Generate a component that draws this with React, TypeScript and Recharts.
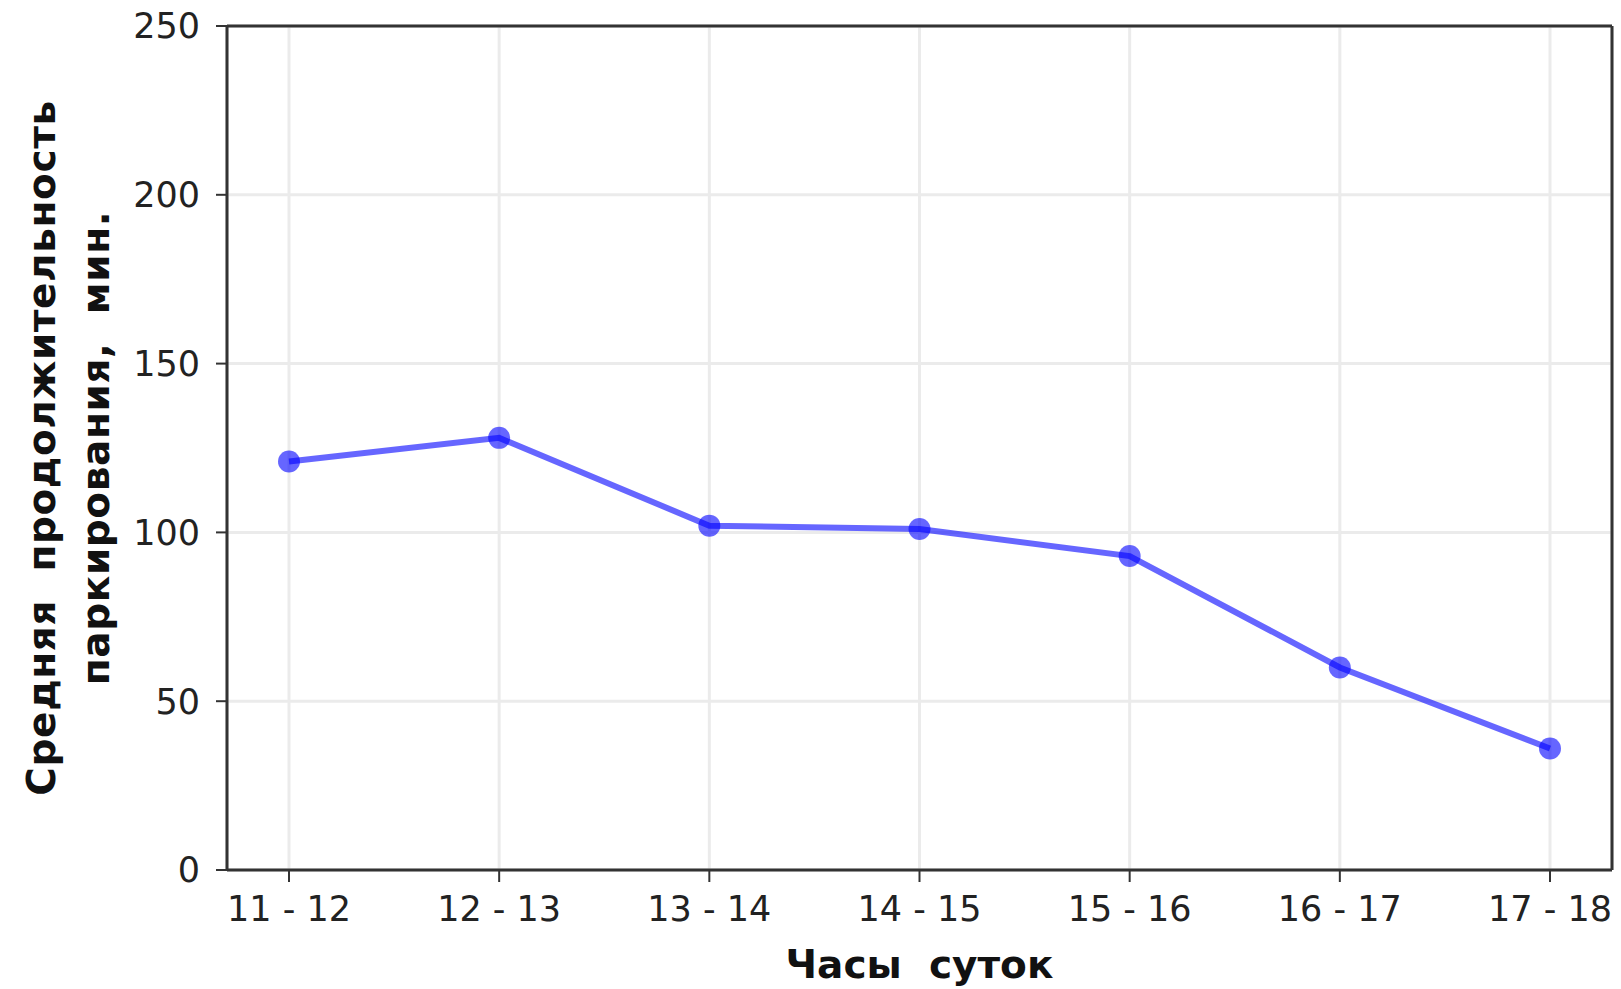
import React from 'react';
import { LineChart, Line, XAxis, YAxis, CartesianGrid, ReferenceLine, Label } from 'recharts';

const hours = ['11 - 12', '12 - 13', '13 - 14', '14 - 15', '15 - 16', '16 - 17', '17 - 18'];
const avgDuration = [121, 128, 102, 101, 93, 60, 36];
const yTicks = [0, 50, 100, 150, 200, 250];

const data = hours.map((h, i) => ({ hour: h, value: avgDuration[i] }));

const FONT = '"DejaVu Sans", sans-serif';
const AXIS = '#333333';

const YLabel = (props: any) => {
  const vb = props.viewBox || {};
  const cy = vb.y + vb.height / 2;
  return (
    <text
      transform={`rotate(-90, 0, ${cy})`}
      x={0}
      y={cy}
      textAnchor="middle"
      fontFamily={FONT}
      fontWeight="bold"
      fontSize={39}
      letterSpacing={0.6}
      fill="#111"
      style={{ whiteSpace: 'pre' }}
    >
      <tspan x={0} y={cy + 55}>Средняя  продолжительность</tspan>
      <tspan x={0} y={cy + 109}>паркирования,  мин.</tspan>
    </text>
  );
};

const XLabel = (props: any) => {
  const vb = props.viewBox || {};
  return (
    <text
      x={vb.x + vb.width / 2}
      y={978}
      textAnchor="middle"
      fontFamily={FONT}
      fontWeight="bold"
      fontSize={39}
      fill="#111"
      style={{ whiteSpace: 'pre' }}
    >
      Часы  суток
    </text>
  );
};

export default function App() {
  return (
    <div style={{ position: 'absolute', left: 0, top: 0, background: '#fff' }}>
      <LineChart width={1621} height={989} data={data} margin={{ top: 26, right: 8, left: 0, bottom: 0 }}>
        <CartesianGrid stroke="#ebebeb" strokeWidth={3} />
        <XAxis
          dataKey="hour"
          height={119}
          padding={{ left: 62, right: 62 }}
          axisLine={{ stroke: AXIS, strokeWidth: 3 }}
          tickLine={{ stroke: AXIS, strokeWidth: 2 }}
          tickSize={12}
          tickMargin={14}
          tick={{ fill: '#222', fontSize: 35, fontFamily: FONT }}
          interval={0}
        >
          <Label content={XLabel} />
        </XAxis>
        <YAxis
          width={227}
          domain={[0, 250]}
          ticks={yTicks}
          axisLine={{ stroke: AXIS, strokeWidth: 3 }}
          tickLine={{ stroke: AXIS, strokeWidth: 2 }}
          tickSize={11}
          tickMargin={16}
          tick={{ fill: '#222', fontSize: 35, fontFamily: FONT }}
        >
          <Label content={YLabel} />
        </YAxis>
        <YAxis
          yAxisId="right"
          orientation="right"
          width={1}
          domain={[0, 250]}
          tick={false}
          tickLine={false}
          axisLine={{ stroke: AXIS, strokeWidth: 3 }}
        />
        <ReferenceLine y={250} stroke={AXIS} strokeWidth={3} />
        <Line
          type="linear"
          dataKey="value"
          stroke="#0000ff"
          strokeOpacity={0.6}
          strokeWidth={6}
          dot={{ r: 11, fill: '#0000ff', fillOpacity: 0.6, stroke: 'none' }}
          activeDot={false}
          isAnimationActive={false}
        />
      </LineChart>
    </div>
  );
}
